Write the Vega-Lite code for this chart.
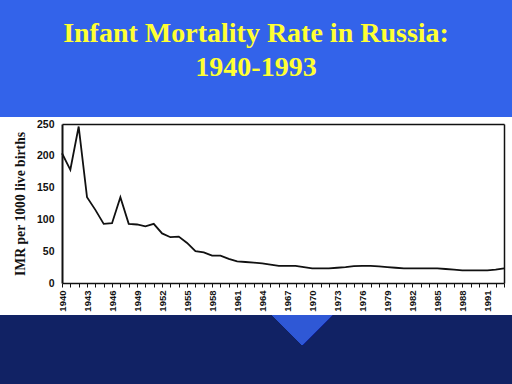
{
  "$schema": "https://vega.github.io/schema/vega-lite/v6.json",
  "width": 442,
  "height": 159,
  "autosize": {"type": "none"},
  "padding": {"left": 62, "top": 124, "right": 8, "bottom": 101},
  "background": "#3363ea",
  "title": {
    "text": ["Infant Mortality Rate in Russia:", "1940-1993"],
    "font": "Liberation Serif",
    "fontWeight": "bold",
    "fontSize": 28,
    "color": "#ffff33",
    "lineHeight": 34,
    "anchor": "middle",
    "frame": "group",
    "dx": -27,
    "offset": 35
  },
  "data": {
    "values": [
      {"year": 1940, "imr": 204}, {"year": 1941, "imr": 178}, {"year": 1942, "imr": 246},
      {"year": 1943, "imr": 135}, {"year": 1944, "imr": 115}, {"year": 1945, "imr": 93},
      {"year": 1946, "imr": 94}, {"year": 1947, "imr": 135}, {"year": 1948, "imr": 93},
      {"year": 1949, "imr": 92}, {"year": 1950, "imr": 89}, {"year": 1951, "imr": 93},
      {"year": 1952, "imr": 78}, {"year": 1953, "imr": 72}, {"year": 1954, "imr": 73},
      {"year": 1955, "imr": 63}, {"year": 1956, "imr": 50}, {"year": 1957, "imr": 48},
      {"year": 1958, "imr": 43}, {"year": 1959, "imr": 43}, {"year": 1960, "imr": 38},
      {"year": 1961, "imr": 34}, {"year": 1962, "imr": 33}, {"year": 1963, "imr": 32},
      {"year": 1964, "imr": 31}, {"year": 1965, "imr": 29}, {"year": 1966, "imr": 27},
      {"year": 1967, "imr": 27}, {"year": 1968, "imr": 27}, {"year": 1969, "imr": 25},
      {"year": 1970, "imr": 23}, {"year": 1971, "imr": 23}, {"year": 1972, "imr": 23},
      {"year": 1973, "imr": 24}, {"year": 1974, "imr": 25}, {"year": 1975, "imr": 26.5},
      {"year": 1976, "imr": 27}, {"year": 1977, "imr": 27}, {"year": 1978, "imr": 26},
      {"year": 1979, "imr": 25}, {"year": 1980, "imr": 24}, {"year": 1981, "imr": 23},
      {"year": 1982, "imr": 23}, {"year": 1983, "imr": 23}, {"year": 1984, "imr": 23},
      {"year": 1985, "imr": 23}, {"year": 1986, "imr": 22}, {"year": 1987, "imr": 21},
      {"year": 1988, "imr": 20}, {"year": 1989, "imr": 20}, {"year": 1990, "imr": 20},
      {"year": 1991, "imr": 20}, {"year": 1992, "imr": 21}, {"year": 1993, "imr": 23}
    ]
  },
  "layer": [
    {
      "mark": {"type": "rect", "clip": false, "fill": "white"},
      "encoding": {
        "x": {
          "datum": 1932.5,
          "type": "quantitative",
          "scale": {"domain": [1940, 1993], "nice": false, "zero": false},
          "axis": {
            "title": null,
            "tickCount": 53,
            "format": "d",
            "labelExpr": "(datum.value - 1940) % 3 == 0 ? datum.label : ''",
            "labelAngle": -90,
            "labelAlign": "right",
            "labelBaseline": "middle",
            "labelFont": "Liberation Sans",
            "labelFontWeight": "bold",
            "labelFontSize": 9.5,
            "labelColor": "#111111",
            "labelPadding": 3,
            "labelOverlap": false,
            "labelFlush": false,
            "ticks": true,
            "tickSize": 4,
            "tickColor": "#111111",
            "domainColor": "#111111",
            "domainWidth": 1.5,
            "grid": true,
            "gridColor": {"condition": {"test": "datum.value >= 1992.5", "value": "#111111"}, "value": "transparent"},
            "gridWidth": 1.5,
            "zindex": 1
          }
        },
        "x2": {"datum": 1994.5},
        "y": {
          "datum": 261,
          "type": "quantitative",
          "scale": {"domain": [0, 250], "nice": false, "zero": false},
          "axis": {
            "title": "IMR per 1000 live births",
            "titleFont": "Liberation Serif",
            "titleFontWeight": "bold",
            "titleFontSize": 13.7,
            "titleColor": "#111111",
            "titlePadding": 9,
            "tickCount": 5,
            "labelFont": "Liberation Sans",
            "labelFontWeight": "bold",
            "labelFontSize": 10.5,
            "labelColor": "#111111",
            "labelPadding": 8,
            "labelOverlap": false,
            "labelFlush": false,
            "ticks": false,
            "domainColor": "#111111",
            "domainWidth": 2,
            "grid": true,
            "gridColor": {"condition": {"test": "datum.value >= 249", "value": "#111111"}, "value": "transparent"},
            "gridWidth": 1.5,
            "zindex": 1
          }
        },
        "y2": {"datum": -51}
      }
    },
    {
      "mark": {"type": "rect", "clip": false, "fill": "#112264"},
      "encoding": {
        "x": {"datum": 1932.5, "type": "quantitative"},
        "x2": {"datum": 1994.5},
        "y": {"datum": -51, "type": "quantitative"},
        "y2": {"datum": -165}
      }
    },
    {
      "mark": {"type": "point", "clip": false, "filled": true, "opacity": 1, "color": "#2f58d6", "shape": "M-1,-0.5L1,-0.5L0,0.5Z", "size": 3600},
      "encoding": {
        "x": {"datum": 1968.8, "type": "quantitative"},
        "y": {"datum": -74, "type": "quantitative"}
      }
    },
    {
      "mark": {"type": "line", "color": "#111111", "strokeWidth": 1.8},
      "encoding": {
        "x": {"field": "year", "type": "quantitative"},
        "y": {"field": "imr", "type": "quantitative"}
      }
    }
  ],
  "config": {
    "view": {"stroke": null}
  }
}
